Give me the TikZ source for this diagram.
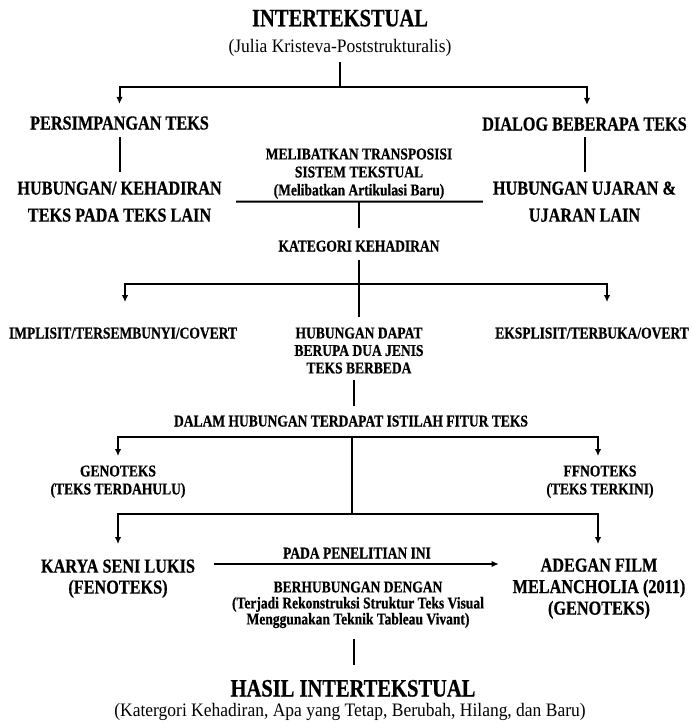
\documentclass[tikz,border=0pt]{standalone}
\usepackage{fontspec}
\setmainfont{Liberation Serif}
\newfontfamily\condf[FakeStretch=0.82,BoldFeatures={FakeBold=0.6}]{Liberation Serif}
\newfontfamily\regf[FakeStretch=0.92]{Liberation Serif}
\usetikzlibrary{arrows.meta,calc}
\begin{document}
\begin{tikzpicture}[x=1pt,y=-1pt,
  every node/.style={inner sep=0pt, outer sep=0pt},
  ttl/.style={font=\condf\bfseries\fontsize{25}{28}\selectfont},
  med/.style={font=\condf\bfseries\fontsize{19.8}{#1}\selectfont},
  med/.default=24,
  sml/.style={font=\condf\bfseries\fontsize{16.5}{#1}\selectfont},
  sml/.default=18,
  rgl/.style={font=\regf\fontsize{19}{22}\selectfont},
  ln/.style={line width=2pt},
  arr/.style={line width=2pt, -{Latex[length=7pt,width=6.5pt]}}
]
\useasboundingbox (0,0) rectangle (691,723);

% nodes
\node[ttl,anchor=base] (t1) at (340,26.3) {INTERTEKSTUAL};
\node[rgl,anchor=base] (t2) at (340,52) {(Julia Kristeva-Poststrukturalis)};
\node[med,anchor=base] (n3) at (119.5,129.5) {PERSIMPANGAN TEKS};
\node[med,anchor=base] (n4) at (584.5,130.5) {DIALOG BEBERAPA TEKS};
\node[med=27,align=center,anchor=north] (n5) at (119.5,181.5) {HUBUNGAN/ KEHADIRAN\\TEKS PADA TEKS LAIN};
\node[med=27,align=center,anchor=north] (n6) at (584.5,181.5) {HUBUNGAN UJARAN \&\\UJARAN LAIN};
\node[sml=18,align=center,anchor=north] (n7) at (359,148.5) {MELIBATKAN TRANSPOSISI\\SISTEM TEKSTUAL\\(Melibatkan Artikulasi Baru)};
\node[sml,anchor=base] (n8) at (359,251.5) {KATEGORI KEHADIRAN};
\node[sml,anchor=base] (n9) at (123,338.5) {IMPLISIT/TERSEMBUNYI/COVERT};
\node[sml=17.5,align=center,anchor=north] (n10) at (359,327.5) {HUBUNGAN DAPAT\\BERUPA DUA JENIS\\TEKS BERBEDA};
\node[sml,anchor=base] (n11) at (592,338.5) {EKSPLISIT/TERBUKA/OVERT};
\node[sml,anchor=base] (n12) at (351,426.5) {DALAM HUBUNGAN TERDAPAT ISTILAH FITUR TEKS};
\node[sml=18,align=center,anchor=north] (n13) at (118,465.5) {GENOTEKS\\(TEKS TERDAHULU)};
\node[sml=18,align=center,anchor=north] (n14) at (600,465.5) {FFNOTEKS\\(TEKS TERKINI)};
\node[med=21,align=center,anchor=north] (n15) at (118,559.5) {KARYA SENI LUKIS\\(FENOTEKS)};
\node[med=21.5,align=center,anchor=north] (n16) at (599,558.5) {ADEGAN FILM\\MELANCHOLIA (2011)\\(GENOTEKS)};
\node[sml,anchor=base] (n17) at (357,558.5) {PADA PENELITIAN INI};
\node[sml=16,align=center,anchor=north] (n18) at (358,581.5) {BERHUBUNGAN DENGAN\\(Terjadi Rekonstruksi Struktur Teks Visual\\Menggunakan Teknik Tableau Vivant)};
\node[ttl,anchor=base] (n19) at (353,696.5) {HASIL INTERTEKSTUAL};
\node[rgl,anchor=base] (n20) at (350,716.5) {(Katergori Kehadiran, Apa yang Tetap, Berubah, Hilang, dan Baru)};

% junctions
\coordinate (j1) at (340,87);
\coordinate (jm) at (359,201.5);
\coordinate (jk) at (359,284);
\coordinate (jd) at (352,437);
\coordinate (je) at (352,514);
\coordinate (v1) at ($(n10.south)+(-5,0)$);
\coordinate (v2) at ($(n18.south)+(-4,0)$);

% connectors
\draw[ln, shorten <=6.2pt] (t2.south) -- (j1);
\draw[arr, shorten >=12.5pt] (j1) -| (n3.north);
\draw[arr, shorten >=12.5pt] (j1) -| ($(n4.north)+(2.5,0)$);
\draw[ln, shorten <=7.5pt, shorten >=9.5pt] (n3.south) -- (n5.north);
\draw[ln, shorten <=6.5pt, shorten >=9.5pt] (n4.south) -- (n6.north);
\draw[ln, shorten <=14.5pt, shorten >=10pt] (n5.east) -- (n6.west);
\draw[ln, shorten >=12.7pt] (jm) -- (n8.north);
\draw[ln, shorten <=8.5pt, shorten >=10.5pt] (n8.south) -- (n10.north);
\draw[arr, shorten >=25.5pt] (jk) -| ($(n9.north)+(2,0)$);
\draw[arr, shorten >=25.5pt] (jk) -| ($(n11.north)+(15,0)$);
\draw[ln, shorten <=6.5pt, shorten >=9.5pt] (v1) -- (v1 |- n12.north);
\draw[arr, shorten >=9.5pt] (jd) -| (n13.north);
\draw[arr, shorten >=9.5pt] (jd) -| ($(n14.north)+(-2,0)$);
\draw[ln] (jd) -- (je);
\draw[arr, shorten >=15.5pt] (je) -| (n15.north);
\draw[arr, shorten >=14.5pt] (je) -| ($(n16.north)+(-1,0)$);
\draw[arr] ([xshift=19pt,yshift=-4.5pt]n15.north east) -- ([xshift=-14pt,yshift=-5.5pt]n16.north west);
\draw[ln, shorten <=11pt, shorten >=15pt] (v2) -- (v2 |- n19.north);
\end{tikzpicture}
\end{document}
